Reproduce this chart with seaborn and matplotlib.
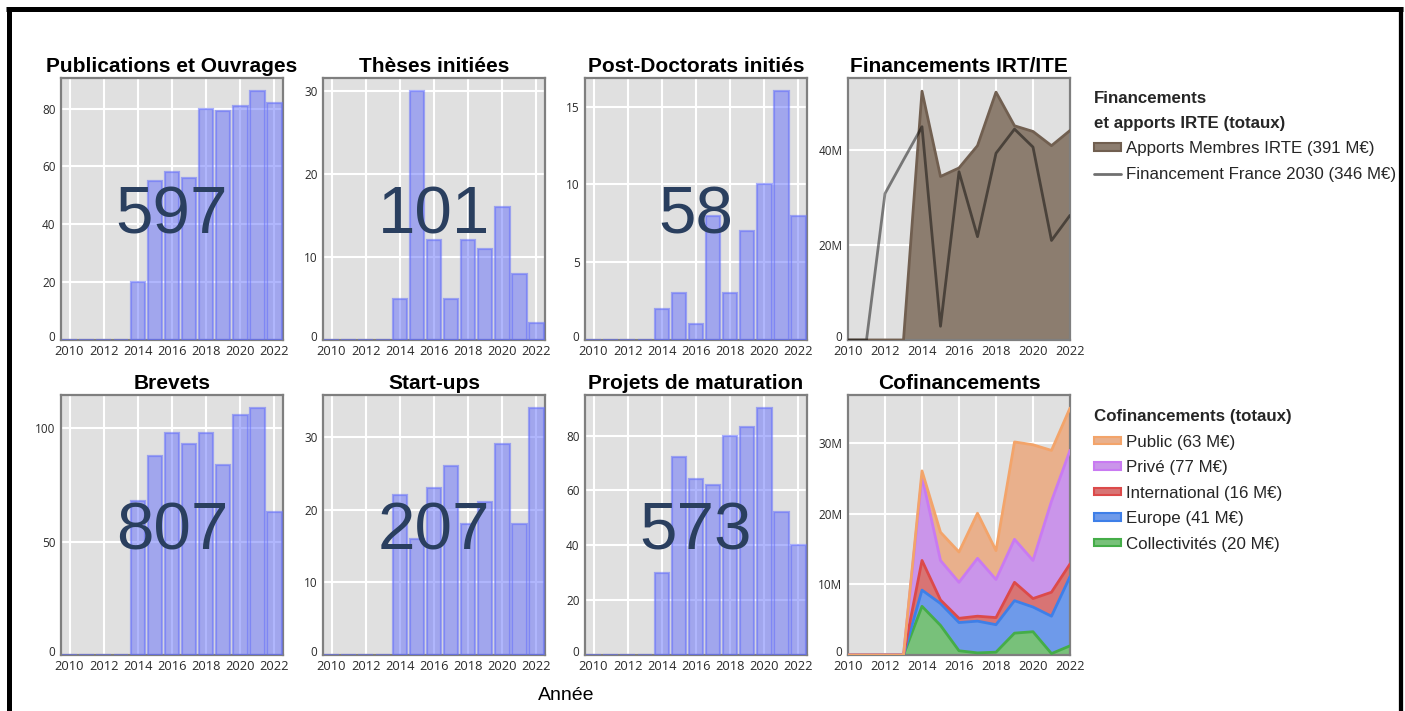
import numpy as np
import pandas as pd
import matplotlib
matplotlib.use("Agg")
import matplotlib.pyplot as plt
from matplotlib.ticker import MultipleLocator, FuncFormatter
from matplotlib.lines import Line2D
from matplotlib.patches import Patch
from matplotlib.transforms import ScaledTranslation
import seaborn as sns

# ---------------- data ----------------
years = list(range(2010, 2023))
publications = [0, 0, 0, 0, 20, 55, 58, 56, 80, 79, 81, 86, 82]
theses = [0, 0, 0, 0, 5, 30, 12, 5, 12, 11, 16, 8, 2]
postdocs = [0, 0, 0, 0, 2, 3, 1, 8, 3, 7, 10, 16, 8]
brevets = [0, 0, 0, 0, 68, 88, 98, 93, 98, 84, 106, 109, 63]
startups = [0, 0, 0, 0, 22, 16, 23, 26, 18, 21, 29, 18, 34]
maturation = [0, 0, 0, 0, 30, 72, 64, 62, 80, 83, 90, 52, 40]

# M€
apports_membres = [0, 0, 0, 0, 52.5, 34.5, 36.3, 41.0, 52.3, 45.2, 44.0, 41.0, 44.2]
france_2030 = [0, 0, 30.9, 38.0, 45.0, 2.9, 35.5, 21.8, 39.4, 44.5, 40.7, 21.0, 26.3]

collectivites = [0, 0, 0, 0, 6.9, 4.2, 0.6, 0.3, 0.4, 3.1, 3.3, 0.2, 1.3]
europe = [0, 0, 0, 0, 2.3, 3.1, 4.0, 4.5, 3.9, 4.6, 3.5, 5.3, 9.8]
international = [0, 0, 0, 0, 4.2, 0.5, 0.6, 0.7, 1.0, 2.6, 1.2, 3.4, 1.8]
prive = [0, 0, 0, 0, 11.9, 5.6, 5.1, 8.2, 5.4, 6.1, 5.4, 12.9, 16.1]
public = [0, 0, 0, 0, 0.8, 4.0, 4.3, 6.4, 4.1, 13.8, 16.4, 7.2, 6.0]

bar_titles = ["Publications et Ouvrages", "Thèses initiées", "Post-Doctorats initiés",
              "Brevets", "Start-ups", "Projets de maturation"]

# ---------------- style ----------------
sns.set_style("darkgrid", {"axes.facecolor": "#e0e0e0", "grid.color": "white",
                           "axes.edgecolor": "#7f7f7f"})
plt.rcParams["font.family"] = ["Liberation Sans", "DejaVu Sans"]

W, H = 1405, 711
fig = plt.figure(figsize=(W / 100, H / 100), dpi=100)
fig.patch.set_facecolor("white")


def add_ax(left, top, h, w=222):
    return fig.add_axes([left / W, 1 - (top + h) / H, w / W, h / H])


TICK_COLOR = "#2a2a2a"
all_axes = []


def style_axes(ax, title, step, fmt=None):
    ax.set_title(title, fontsize=15, fontweight="bold", pad=4, color="black")
    ax.set_xlabel("")
    ax.set_ylabel("")
    ax.xaxis.set_major_locator(MultipleLocator(2))
    ax.yaxis.set_major_locator(MultipleLocator(step))
    if fmt is not None:
        ax.yaxis.set_major_formatter(FuncFormatter(fmt))
    ax.tick_params(axis="both", length=0, colors=TICK_COLOR)
    ax.tick_params(axis="x", pad=3.5, labelsize=9.3)
    ax.tick_params(axis="y", pad=4, labelsize=8.5)
    for lab in ax.get_xticklabels() + ax.get_yticklabels():
        lab.set_fontfamily("Open Sans")
    ax.grid(True, color="white", lw=1.5)
    ax.set_axisbelow(True)
    for sp in ax.spines.values():
        sp.set_visible(True)
        sp.set_color("#7f7f7f")
        sp.set_linewidth(1.6)
    all_axes.append(ax)


def bar_panel(ax, vals, title, step):
    df = pd.DataFrame({"year": years, "val": vals})
    sns.barplot(data=df, x="year", y="val", native_scale=True, width=0.85, ax=ax,
                color="#636efa", saturation=1, errorbar=None)
    for p in ax.patches:
        p.set_facecolor((0.388, 0.431, 0.98, 0.5))
        p.set_edgecolor((0.388, 0.431, 0.98, 0.55))
        p.set_linewidth(1.6)
        p.set_zorder(3)
    ax.set_xlim(2009.5, 2022.5)
    ax.set_ylim(0, max(vals) * 1.053)
    style_axes(ax, title, step)
    ax.text(0.5, 0.5, str(int(sum(vals))), transform=ax.transAxes, ha="center",
            va="center_baseline", fontsize=48.5, color="#2a3f5f", zorder=7,
            family="Liberation Sans")


col_left = [61, 323, 585, 848]
row1_top, row1_h = 78, 262
row2_top, row2_h = 395, 260

bar_data = [publications, theses, postdocs, brevets, startups, maturation]
steps = [20, 10, 5, 50, 10, 20]
positions = [(col_left[0], row1_top, row1_h), (col_left[1], row1_top, row1_h),
             (col_left[2], row1_top, row1_h), (col_left[0], row2_top, row2_h),
             (col_left[1], row2_top, row2_h), (col_left[2], row2_top, row2_h)]
for vals, title, st, pos in zip(bar_data, bar_titles, steps, positions):
    ax = add_ax(pos[0], pos[1], pos[2])
    bar_panel(ax, vals, title, st)

mfmt = lambda v, p: "0" if v == 0 else f"{int(round(v))}M"

# ---------------- Financements IRT/ITE ----------------
ax = add_ax(col_left[3], row1_top, row1_h)
brown_fill = "#8c7d6f"
brown_edge = "#715f50"
ax.fill_between(years, 0, apports_membres, color=brown_fill, lw=0, zorder=2)
ax.plot(years, apports_membres, color=brown_edge, lw=2, zorder=3)
sns.lineplot(x=years, y=france_2030, ax=ax, color="black", alpha=0.47, lw=2, zorder=4)
ax.set_xlim(2010, 2022)
ax.set_ylim(0, max(apports_membres) * 1.053)
style_axes(ax, "Financements IRT/ITE", 20, mfmt)

LEG_FS = 12.2
leg_kw = dict(loc="upper left", frameon=False, fontsize=LEG_FS, alignment="left",
              title_fontproperties={"weight": "bold", "size": LEG_FS},
              handlelength=1.6, handleheight=0.33, handletextpad=0.28,
              labelspacing=0.62, borderpad=0, borderaxespad=0)
h1 = [Patch(facecolor=brown_fill, edgecolor=brown_edge, lw=1.5),
      Line2D([0], [0], color="#707070", lw=2)]
l1 = [f"Apports Membres IRTE ({round(sum(apports_membres))} M€)",
      f"Financement France 2030 ({round(sum(france_2030))} M€)"]
leg1 = fig.legend(h1, l1, title="Financements\net apports IRTE (totaux)",
                  bbox_to_anchor=(1094 / W, 1 - 91 / H), **leg_kw)
leg1.get_title().set_linespacing(1.8)

# ---------------- Cofinancements ----------------
ax = add_ax(col_left[3], row2_top, row2_h)
series = [collectivites, europe, international, prive, public]
names = ["Collectivités", "Europe", "International", "Privé", "Public"]
fills = ["#78c17a", "#6e9aea", "#d87474", "#ca95ea", "#e9b08c"]
edges = ["#45ad48", "#3e7fe8", "#dc4a4a", "#c97af2", "#f3a46a"]
ax.stackplot(years, *series, colors=fills, lw=0, zorder=2)
cum = np.cumsum(np.array(series, dtype=float), axis=0)
for i in range(len(series)):
    ax.plot(years, cum[i], color=edges[i], lw=2, zorder=3)
ax.set_xlim(2010, 2022)
ax.set_ylim(0, cum[-1].max() * 1.053)
style_axes(ax, "Cofinancements", 10, mfmt)

h2 = [Patch(facecolor=fills[i], edgecolor=edges[i], lw=1.5) for i in range(4, -1, -1)]
l2 = [f"{names[i]} ({round(sum(series[i]))} M€)" for i in range(4, -1, -1)]
leg2 = fig.legend(h2, l2, title="Cofinancements (totaux)",
                  bbox_to_anchor=(1094 / W, 1 - 409 / H), **leg_kw)

# ---------------- shared x label & border ----------------
fig.text(566 / W, 1 - 695 / H, "Année", ha="center", va="center", fontsize=14,
         color="black")

bw = 3.6
fig.add_artist(Line2D([6.5 / W, 1403 / W], [1 - 9.2 / H] * 2, color="black", lw=bw,
                      solid_capstyle="butt"))
fig.add_artist(Line2D([9.2 / W] * 2, [1 - 7 / H, 0], color="black", lw=bw,
                      solid_capstyle="butt"))
fig.add_artist(Line2D([1401 / W] * 2, [1 - 7 / H, 0], color="black", lw=bw * 0.85,
                      solid_capstyle="butt"))

# nudge the "0" y tick label slightly up so it clears the first x tick label
fig.canvas.draw()
up = ScaledTranslation(0, 3 / 72, fig.dpi_scale_trans)
for a in all_axes:
    for t in a.yaxis.get_major_ticks():
        if abs(t.get_loc()) < 1e-9:
            t.label1.set_transform(t.label1.get_transform() + up)

fig.savefig("out.png", dpi=100, facecolor="white")
